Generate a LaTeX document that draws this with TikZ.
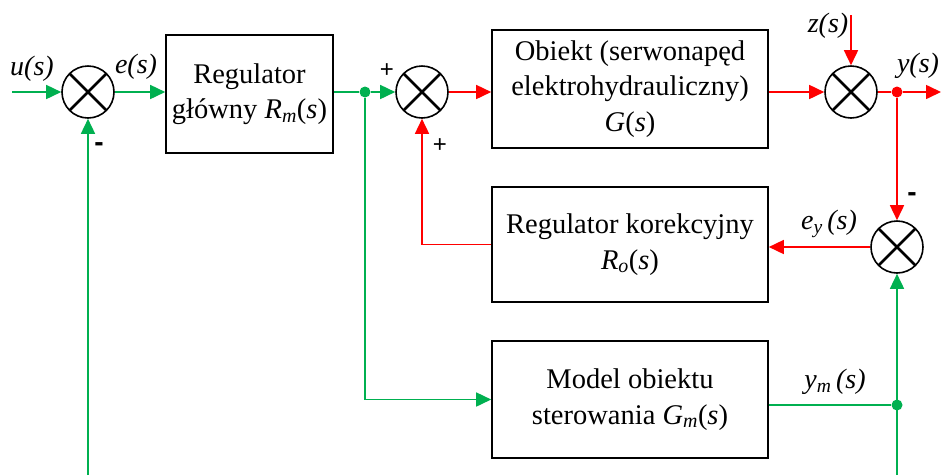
\documentclass[tikz,border=0pt]{standalone}
\usepackage{fontspec}
\setmainfont{Liberation Serif}
\newfontfamily\signfont{Liberation Sans}
\usetikzlibrary{positioning,arrows.meta}
\definecolor{sigGreen}{HTML}{00B050}
\definecolor{sigRed}{HTML}{FF0000}

\begin{document}
\begin{tikzpicture}[x=1pt, y=-1pt,
  blockbox/.style={draw, line width=1.6pt, minimum width=276pt, minimum height=116pt, align=center, font=\fontsize{28.5}{35.5}\selectfont},
  sumnode/.style={circle, draw, line width=1.6pt, minimum size=52pt, inner sep=0pt,
    path picture={\draw[line width=2.6pt] (path picture bounding box.south west) -- (path picture bounding box.north east)
      (path picture bounding box.north west) -- (path picture bounding box.south east);}},
  gline/.style={line width=1.6pt, color=sigGreen},
  rline/.style={line width=1.6pt, color=sigRed},
  garrow/.style={gline, -{Triangle[length=15pt,width=14pt]}},
  rarrow/.style={rline, -{Triangle[length=15pt,width=14pt]}},
  dotnode/.style={circle, fill, inner sep=0pt, minimum size=11pt},
  lbl/.style={font=\fontsize{28}{30}\selectfont\itshape, inner sep=0pt},
  sign/.style={font=\signfont\fontsize{24}{26}\selectfont, inner sep=0pt}]
\useasboundingbox (0,0) rectangle (941,475);

% blocks
\node[blockbox, minimum width=167pt, minimum height=118pt] (reg) at (249.5,94) {Regulator\\g\l{}ówny \textit{R}\textsubscript{\textit{m}}(\textit{s})};
\node[blockbox, minimum height=118pt] (obj) at (630,89) {Obiekt (serwonap\k{e}d\\elektrohydrauliczny)\\\textit{G}(\textit{s})};
\node[blockbox, minimum height=115pt] (kor) at (630,244.5) {Regulator korekcyjny\\\textit{R}\textsubscript{\textit{o}}(\textit{s})};
\node[blockbox, minimum height=117pt] (model) at (630,399.5) {Model obiektu\\sterowania \textit{G}\textsubscript{\textit{m}}(\textit{s})};

% summing junctions
\node[sumnode] (s1) at (88,92) {};
\node[sumnode] (s2) at (422,92) {};
\node[sumnode] (s3) at (851,92) {};
\node[sumnode] (s4) at (897,247) {};

% branch points
\node[dotnode, sigGreen] (d1) at (365,92) {};
\node[dotnode, sigRed] (d2) at (897,92) {};
\node[dotnode, sigGreen] (d3) at (897,405) {};

% free ends
\coordinate (uin) at (12,92);
\coordinate (zin) at (851,15);
\coordinate (yout) at (941,92);
\coordinate (b1) at (88,475);
\coordinate (b2) at (897,475);

% forward path
\draw[garrow] (uin) -- (s1);
\draw[garrow] (s1) -- (s1 -| reg.west);
\draw[gline] (d1 -| reg.east) -- (d1);
\draw[garrow] (d1) -- (s2);
\draw[rarrow] (s2) -- (s2 -| obj.west);
\draw[rarrow] (s3 -| obj.east) -- (s3);
\draw[rarrow] (zin) -- (s3);
\draw[rline] (s3) -- (d2);
\draw[rarrow] (d2) -- (yout);

% correction loop
\draw[rarrow] (d2) -- (s4);
\draw[rarrow] (s4) -- (s4 -| kor.east);
\draw[rarrow] (kor.west) -| (s2);

% model path
\draw[garrow] (d1) |- (model.west);
\draw[gline] (d3 -| model.east) -- (d3);
\draw[garrow] (b2) -- (s4);
\draw[garrow] (b1) -- (s1);

% labels
\node[lbl] (lu) at (32,69) {u(s)};
\node[lbl] (le) at (136,67) {e(s)};
\node[lbl] (lz) at (828,26) {z(s)};
\node[lbl] (ly) at (918,66) {y(s)};
\node[lbl] (ley) at (829,224) {e\textsubscript{y}\,(s)};
\node[lbl] (lym) at (835,382) {y\textsubscript{m}\,(s)};
\node[sign] (p1) at (387,71) {+};
\node[sign] (p2) at (440,146) {+};
\node[sign, font=\signfont\bfseries\fontsize{28}{30}\selectfont] (m1) at (99,147) {-};
\node[sign, font=\signfont\bfseries\fontsize{28}{30}\selectfont] (m2) at (912,197) {-};
\end{tikzpicture}
\end{document}
